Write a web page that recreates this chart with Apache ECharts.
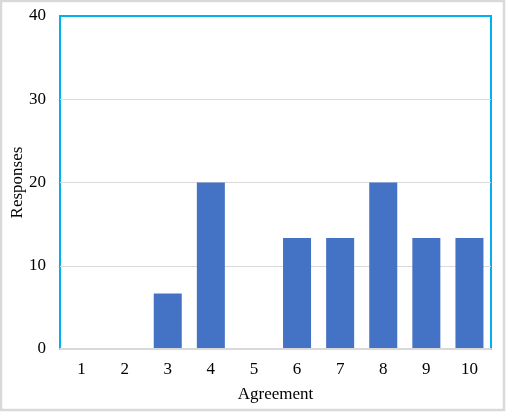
<!DOCTYPE html>
<html>
<head>
<meta charset="utf-8">
<script src="https://cdn.jsdelivr.net/npm/echarts@6/dist/echarts.min.js"></script>
<style>
html,body{margin:0;padding:0;background:#fff;}
#chart{width:506px;height:412px;}
</style>
</head>
<body>
<div id="chart"></div>
<script>
const categories = ['1','2','3','4','5','6','7','8','9','10'];
const responses = [0, 0, 6.67, 20, 0, 13.33, 13.33, 20, 13.33, 13.33];
const yTicks = [0, 10, 20, 30, 40];

const chart = echarts.init(document.getElementById('chart'), null, {renderer:'canvas'});
const font = '"Liberation Serif", "Times New Roman", serif';
chart.setOption({
  animation: false,
  textStyle: {fontFamily: font},
  graphic: [{
    type: 'rect',
    shape: {x: 1, y: 1, width: 503, height: 409},
    style: {fill: 'none', stroke: '#d9d9d9', lineWidth: 2.5},
    silent: true
  }],
  grid: {
    left: 60, right: 15, top: 16, bottom: 63,
    containLabel: false,
    outerBoundsMode: 'none',
    show: true, borderColor: '#00b0f0', borderWidth: 2, backgroundColor: 'transparent'
  },
  xAxis: {
    type: 'category',
    data: categories,
    name: 'Agreement',
    nameLocation: 'middle',
    nameGap: 37,
    nameMoveOverlap: false,
    nameTextStyle: {fontFamily: font, fontSize: 17, color: '#000'},
    axisLine: {show: true, lineStyle: {color: '#d9d9d9', width: 2}},
    axisTick: {show: false},
    axisLabel: {fontFamily: font, fontSize: 17, color: '#000', margin: 12},
    z: 5
  },
  yAxis: {
    type: 'value',
    min: yTicks[0], max: yTicks[yTicks.length-1], interval: 10,
    name: 'Responses',
    nameLocation: 'middle',
    nameGap: 34,
    nameMoveOverlap: false,
    nameTextStyle: {fontFamily: font, fontSize: 17, color: '#000'},
    axisLine: {show: false},
    axisTick: {show: false},
    axisLabel: {fontFamily: font, fontSize: 17, color: '#000', margin: 14},
    splitLine: {showMaxLine: false, showMinLine: false, lineStyle: {color: '#d9d9d9', width: 1}}
  },
  series: [{
    type: 'bar',
    data: responses,
    barWidth: '65%',
    itemStyle: {color: '#4472c4'}
  }]
});
</script>
</body>
</html>
